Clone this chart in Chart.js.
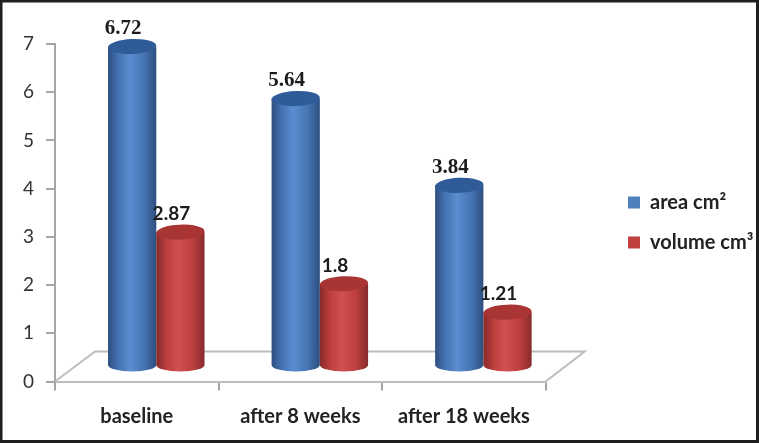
<!DOCTYPE html>
<html>
<head>
<meta charset="utf-8">
<title>area and volume</title>
<script src="https://cdn.jsdelivr.net/npm/chart.js@4"></script>
<style>
  html, body { margin: 0; padding: 0; background: #fff; }
  canvas { display: block; filter: blur(0.4px); }
</style>
</head>
<body>
<canvas id="chart" width="759" height="443"></canvas>
<script>
const categories = ['baseline', 'after 8 weeks', 'after 18 weeks'];
const areaValues = [6.72, 5.64, 3.84];
const volumeValues = [2.87, 1.8, 1.21];
const yTicks = [0, 1, 2, 3, 4, 5, 6, 7];

// 3D look of the original: bars sit back on the floor, shifted from the front axis
const depthX = 19.5;
const topShift = -11;
const baseShift = -15.5;

function drawCylinder(ctx, ds, bar) {
  const half = bar.width / 2;
  const cx = bar.x + depthX;
  const topY = bar.y + topShift;
  const baseY = bar.base + baseShift;
  const grad = ctx.createLinearGradient(cx - half, 0, cx + half, 0);
  grad.addColorStop(0, ds.edgeColor);
  grad.addColorStop(0.22, ds.midColor);
  grad.addColorStop(0.45, ds.lightColor);
  grad.addColorStop(0.75, ds.midColor);
  grad.addColorStop(1, ds.edgeColor);
  ctx.save();
  ctx.fillStyle = grad;
  ctx.beginPath();
  ctx.moveTo(cx - half, topY);
  ctx.lineTo(cx - half, baseY);
  ctx.ellipse(cx, baseY, half, 6.5, 0, Math.PI, 0, true);
  ctx.lineTo(cx + half, topY);
  ctx.closePath();
  ctx.fill();
  ctx.fillStyle = ds.capColor;
  ctx.beginPath();
  ctx.ellipse(cx, topY, half, 7.5, -0.04, 0, Math.PI * 2);
  ctx.fill();
  ctx.restore();
}

const cylinders = {
  id: 'cylinders',
  beforeDraw(chart) {
    const ctx = chart.ctx;
    ctx.save();
    ctx.fillStyle = '#fff';
    ctx.fillRect(0, 0, chart.width, chart.height);
    ctx.strokeStyle = '#1f1f1f';
    ctx.lineWidth = 3;
    ctx.strokeRect(1, 1, chart.width - 2.5, chart.height - 2.5);
    ctx.restore();
  },
  afterLayout(chart) {
    // legend sits further right and higher than the space it reserves
    const legend = chart.legend;
    const w = legend.width;
    const h = legend.height;
    legend.left = 628 - legend.options.labels.padding;
    legend.right = legend.left + w;
    legend.top -= 21;
    legend.bottom = legend.top + h;
  },
  beforeDatasetsDraw(chart) {
    const ctx = chart.ctx;
    const { left, right, bottom } = chart.chartArea;
    ctx.save();
    ctx.strokeStyle = '#bdbdbd';
    ctx.lineWidth = 2;
    ctx.beginPath();
    ctx.moveTo(left, bottom);
    ctx.lineTo(left + 40, bottom - 30);
    ctx.lineTo(right + 39, bottom - 30);
    ctx.lineTo(right, bottom);
    ctx.stroke();
    ctx.restore();
  },
  beforeDatasetDraw() {
    // the library's flat rectangles are replaced by the cylinders below
    return false;
  },
  afterDatasetsDraw(chart) {
    const ctx = chart.ctx;
    chart.data.datasets.forEach((ds, i) => {
      chart.getDatasetMeta(i).data.forEach(bar => drawCylinder(ctx, ds, bar));
    });
    ctx.save();
    ctx.textAlign = 'center';
    ctx.textBaseline = 'middle';
    ctx.fillStyle = '#1c1c1c';
    chart.data.datasets.forEach((ds, i) => {
      ctx.font = ds.valueFont;
      chart.getDatasetMeta(i).data.forEach((bar, k) => {
        ctx.fillText(ds.data[k], bar.x + depthX - 9, bar.y + topShift - 18);
      });
    });
    ctx.restore();
  }
};

new Chart(document.getElementById('chart'), {
  type: 'bar',
  data: {
    labels: categories,
    datasets: [
      {
        label: 'area cm²',
        data: areaValues,
        backgroundColor: '#4f81bd',
        edgeColor: '#2d4f80',
        midColor: '#4674b4',
        lightColor: '#5a8ccf',
        capColor: '#2f5c99',
        valueFont: 'bold 21px "Liberation Serif"'
      },
      {
        label: 'volume cm³',
        data: volumeValues,
        backgroundColor: '#c0403e',
        edgeColor: '#862b2a',
        midColor: '#bd3f3e',
        lightColor: '#d14f4f',
        capColor: '#a83434',
        valueFont: 'bold 19px Lato'
      }
    ]
  },
  options: {
    responsive: false,
    animation: false,
    layout: { padding: { top: 44, right: 58 } },
    categoryPercentage: 0.59,
    barPercentage: 1,
    plugins: {
      tooltip: { enabled: false },
      legend: {
        position: 'right',
        labels: {
          boxWidth: 12,
          boxHeight: 12,
          padding: 20,
          color: '#222',
          font: { family: 'Lato', weight: 'bold', size: 20 }
        }
      }
    },
    scales: {
      x: {
        afterFit(scale) { scale.height = 61.5; },
        grid: { drawOnChartArea: false, color: '#a6a6a6', lineWidth: 2, tickLength: 9 },
        border: { color: '#bdbdbd', width: 2 },
        ticks: { color: '#222', padding: 14, font: { family: 'Lato', weight: 'bold', size: 20 } }
      },
      y: {
        min: yTicks[0],
        max: yTicks[yTicks.length - 1],
        afterFit(scale) { scale.width = 55; },
        grid: { drawOnChartArea: false, color: '#a6a6a6', lineWidth: 2, tickLength: 9 },
        border: { color: '#a6a6a6', width: 2 },
        afterBuildTicks(scale) { scale.ticks = yTicks.map(v => ({ value: v })); },
        ticks: { color: '#333', padding: 12, font: { family: 'Lato', size: 19 } }
      }
    }
  },
  plugins: [cylinders]
});
</script>
</body>
</html>
